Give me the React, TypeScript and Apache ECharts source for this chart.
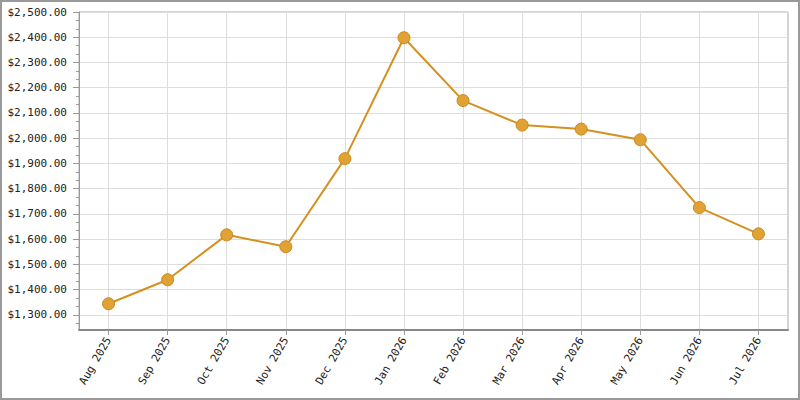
import React, { useEffect, useRef } from "react";
import * as echarts from "echarts";

const categories = [
  "Aug 2025", "Sep 2025", "Oct 2025", "Nov 2025", "Dec 2025", "Jan 2026",
  "Feb 2026", "Mar 2026", "Apr 2026", "May 2026", "Jun 2026", "Jul 2026",
];
const values = [1344, 1439, 1617, 1570, 1919, 2398, 2149, 2052, 2036, 1994, 1725, 1621];
const yTickValues = [1300, 1400, 1500, 1600, 1700, 1800, 1900, 2000, 2100, 2200, 2300, 2400, 2500];
const yMin = 1240;
const yMax = 2500;

const FONT = "DejaVu Sans Mono";

function fmt(v: number): string {
  return "$" + v.toLocaleString("en-US", { minimumFractionDigits: 2, maximumFractionDigits: 2 });
}

export default function App() {
  const ref = useRef<HTMLDivElement>(null);
  useEffect(() => {
    document.body.style.margin = "0";
    const chart = echarts.init(ref.current!, null, { renderer: "svg" });
    chart.setOption({
      animation: false,
      backgroundColor: "#ffffff",
      grid: {
        left: 79,
        right: 12,
        top: 12,
        bottom: 70,
        show: true,
        borderColor: "#aaaaaa",
        borderWidth: 1,
        backgroundColor: "transparent",
      },
      xAxis: {
        type: "category",
        data: categories,
        boundaryGap: true,
        axisLine: { lineStyle: { color: "#888888", width: 2 } },
        axisTick: { show: true, alignWithLabel: true, length: 5, lineStyle: { color: "#999999" } },
        splitLine: { show: true, alignWithLabel: true, lineStyle: { color: "#dddddd", width: 1 } },
        axisLabel: {
          rotate: 60,
          margin: 8,
          fontFamily: FONT,
          fontSize: 11,
          color: "#222222",
          interval: 0,
        },
      },
      yAxis: {
        type: "value",
        min: yMin,
        max: yMax,
        splitNumber: 12,
        axisLine: { show: true, lineStyle: { color: "#999999", width: 1 } },
        axisTick: { show: true, length: 6, customValues: yTickValues, lineStyle: { color: "#999999" } },
        minorTick: { show: true, splitNumber: 3, length: 3, lineStyle: { color: "#999999" } },
        splitLine: { show: true, lineStyle: { color: "#dddddd", width: 1 } },
        axisLabel: {
          customValues: yTickValues,
          showMinLabel: true,
          margin: 12,
          fontFamily: FONT,
          fontSize: 11,
          color: "#222222",
          formatter: (v: number) => fmt(v),
        },
      },
      series: [
        {
          type: "line",
          data: values,
          symbol: "circle",
          symbolSize: 12,
          lineStyle: { color: "#d4911f", width: 2 },
          itemStyle: { color: "#e0a234", borderColor: "#c98a1c", borderWidth: 1 },
        },
      ],
    });
    return () => chart.dispose();
  }, []);
  return (
    <div style={{ position: "absolute", left: 0, top: 0, width: 800, height: 400 }}>
      <div ref={ref} style={{ width: 800, height: 400 }} />
      <div
        style={{
          position: "absolute",
          left: 0,
          top: 0,
          width: 800,
          height: 400,
          boxSizing: "border-box",
          border: "2px solid #999999",
          pointerEvents: "none",
        }}
      />
    </div>
  );
}
